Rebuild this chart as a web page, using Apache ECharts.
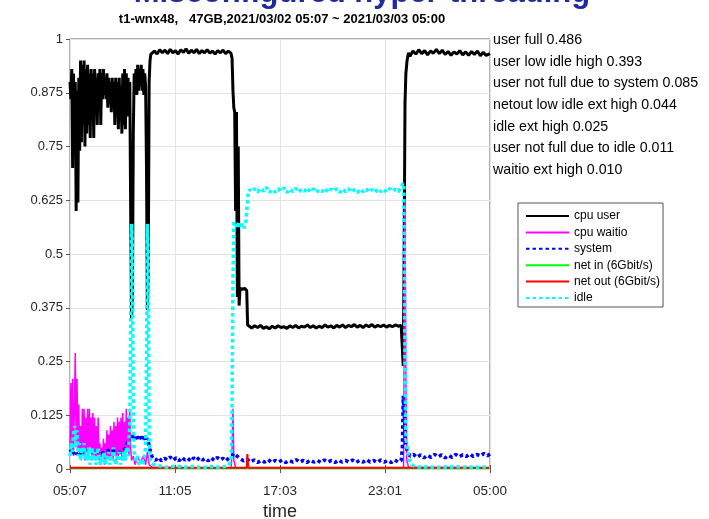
<!DOCTYPE html>
<html>
<head>
<meta charset="utf-8">
<title>cpu</title>
<script src="https://cdn.jsdelivr.net/npm/echarts/dist/echarts.min.js"></script>
<style>
  html, body { margin: 0; padding: 0; background: #fff; }
  #main { width: 709px; height: 519px; }
</style>
</head>
<body>
<div id="main"></div>
<script>
// x values are minutes after 2021/03/02 05:07
var xMax = 1433
var xTickLabels = ['05:07', '11:05', '17:03', '23:01', '05:00']
var yTicks = 0.125

var seriesNames = ['cpu user', 'cpu waitio', 'system', 'net in (6Gbit/s)', 'net out (6Gbit/s)', 'idle']

var notes = [
  'user full 0.486',
  'user low idle high 0.393',
  'user not full due to system 0.085',
  'netout low idle ext high 0.044',
  'idle ext high 0.025',
  'user not full due to idle 0.011',
  'waitio ext high 0.010'
]

var userData = [
  [0,0.90],[3,0.86],[6,0.93],[9,0.70],[12,0.92],[15,0.75],[18,0.90],[21,0.60],[24,0.88],[27,0.62],
  [30,0.91],[33,0.74],[36,0.95],[39,0.76],[42,0.94],[45,0.80],[48,0.95],[51,0.75],[54,0.93],[57,0.78],
  [60,0.94],[63,0.80],[66,0.92],[69,0.77],[72,0.93],[75,0.82],[78,0.92],[81,0.77],[84,0.93],[87,0.85],
  [90,0.91],[93,0.80],[96,0.92],[99,0.84],[102,0.93],[105,0.80],[108,0.92],[111,0.86],[114,0.93],[117,0.87],
  [120,0.91],[123,0.86],[126,0.92],[129,0.84],[132,0.91],[135,0.85],[138,0.90],[141,0.83],[144,0.91],[147,0.84],
  [150,0.90],[153,0.80],[156,0.91],[159,0.82],[162,0.90],[165,0.79],[168,0.91],[171,0.81],[174,0.89],[177,0.78],
  [180,0.92],[183,0.80],[186,0.93],[189,0.79],[192,0.92],[195,0.82],[198,0.91],[201,0.86],[204,0.90],[207,0.60],
  [210,0.35],[213,0.40],[216,0.78],[219,0.92],[222,0.88],[225,0.93],[228,0.87],[231,0.94],[234,0.88],[237,0.93],
  [240,0.89],[243,0.94],[246,0.88],[249,0.93],[252,0.87],[255,0.92],[258,0.89],[261,0.70],[264,0.37],[267,0.45],
  [270,0.90],[273,0.95],[276,0.965],
  [279,0.962],[288,0.972],[297,0.965],[306,0.975],[315,0.968],[324,0.974],[333,0.966],[342,0.976],[351,0.968],
  [360,0.973],[369,0.965],[378,0.975],[387,0.969],[396,0.977],[405,0.967],[414,0.974],[423,0.968],[432,0.976],
  [441,0.966],[450,0.973],[459,0.968],[468,0.975],[477,0.967],[486,0.972],[495,0.965],[504,0.973],[513,0.968],
  [522,0.974],[531,0.966],[540,0.972],[549,0.967],
  [553,0.955],[556,0.88],[559,0.84],[562,0.83],[565,0.60],[568,0.83],[571,0.40],[574,0.75],[577,0.38],
  [580,0.42],[588,0.418],[596,0.42],[603,0.415],[606,0.335],
  [610,0.332],[620,0.328],[630,0.333],[640,0.329],[650,0.334],[660,0.327],[670,0.331],[680,0.326],[690,0.332],
  [700,0.328],[710,0.333],[720,0.329],[730,0.331],[740,0.327],[750,0.333],[760,0.329],[770,0.334],[780,0.328],
  [790,0.332],[800,0.330],[810,0.335],[820,0.329],[830,0.333],[840,0.328],[850,0.332],[860,0.329],[870,0.335],
  [880,0.330],[890,0.333],[900,0.328],[910,0.334],[920,0.330],[930,0.335],[940,0.329],[950,0.334],[960,0.331],
  [970,0.336],[980,0.330],[990,0.334],[1000,0.329],[1010,0.335],[1020,0.331],[1030,0.336],[1040,0.330],
  [1050,0.334],[1060,0.331],[1070,0.335],[1080,0.330],[1090,0.334],[1100,0.331],[1110,0.335],[1120,0.332],
  [1130,0.334],[1134,0.330],[1137,0.24],[1140,0.50],[1143,0.85],[1146,0.92],[1150,0.95],[1155,0.968],
  [1160,0.960],[1170,0.972],[1180,0.965],[1190,0.975],[1200,0.966],[1210,0.973],[1220,0.963],[1230,0.972],
  [1240,0.967],[1250,0.976],[1260,0.966],[1270,0.974],[1280,0.964],[1290,0.971],[1300,0.962],[1310,0.970],
  [1320,0.965],[1330,0.973],[1340,0.963],[1350,0.970],[1360,0.962],[1370,0.971],[1380,0.964],[1390,0.972],
  [1400,0.961],[1410,0.969],[1420,0.962],[1433,0.966]
]

var waitioData = [
  [0,0.04],[3,0.20],[6,0.06],[9,0.21],[12,0.03],[15,0.14],[18,0.27],[21,0.05],[24,0.21],[27,0.04],
  [30,0.15],[33,0.03],[36,0.10],[39,0.02],[42,0.14],[45,0.03],[48,0.14],[51,0.02],[54,0.12],[57,0.04],
  [60,0.14],[63,0.03],[66,0.14],[69,0.05],[72,0.12],[75,0.02],[78,0.13],[81,0.03],[84,0.12],[87,0.02],
  [90,0.10],[93,0.03],[96,0.12],[99,0.02],[102,0.06],[105,0.01],[108,0.05],[111,0.02],[114,0.07],[117,0.01],
  [120,0.06],[123,0.02],[126,0.09],[129,0.03],[132,0.08],[135,0.02],[138,0.10],[141,0.03],[144,0.09],[147,0.02],
  [150,0.11],[153,0.03],[156,0.10],[159,0.02],[162,0.12],[165,0.03],[168,0.11],[171,0.04],[174,0.12],[177,0.02],
  [180,0.13],[183,0.03],[186,0.11],[189,0.02],[192,0.14],[195,0.04],[198,0.12],[201,0.03],[204,0.14],[207,0.05],
  [210,0.02],[216,0.03],[222,0.01],[230,0.03],[240,0.015],[250,0.03],[258,0.01],[264,0.04],[270,0.01],
  [280,0.004],[400,0.003],[550,0.003],[553,0.05],[556,0.14],[559,0.02],[565,0.003],[800,0.003],
  [1138,0.003],[1140,0.30],[1143,0.62],[1146,0.20],[1149,0.02],[1155,0.004],[1433,0.003]
]

var systemData = [
  [0,0.040],[6,0.046],[12,0.036],[18,0.042],[24,0.034],[30,0.040],[36,0.035],[42,0.042],[48,0.038],[54,0.044],
  [60,0.036],[66,0.041],[72,0.035],[78,0.040],[84,0.037],[90,0.045],[96,0.040],[102,0.037],[108,0.043],[114,0.036],
  [120,0.041],[126,0.038],[132,0.043],[138,0.040],[144,0.046],[150,0.041],[156,0.045],[162,0.040],[168,0.044],
  [174,0.038],[180,0.043],[186,0.040],[192,0.050],[198,0.066],[204,0.074],[210,0.068],[216,0.080],[222,0.070],
  [228,0.078],[234,0.066],[240,0.075],[246,0.068],[252,0.079],[258,0.064],[264,0.072],[270,0.055],[276,0.035],
  [282,0.026],[292,0.020],[302,0.027],[312,0.019],[322,0.025],[332,0.021],[342,0.028],[352,0.020],[362,0.026],
  [372,0.019],[382,0.027],[392,0.021],[402,0.025],[412,0.018],[422,0.026],[432,0.020],[442,0.027],[452,0.021],
  [462,0.025],[472,0.019],[482,0.026],[492,0.020],[502,0.027],[512,0.021],[522,0.025],[532,0.019],[542,0.026],
  [552,0.030],[560,0.036],[570,0.030],[580,0.024],[592,0.019],[604,0.023],[616,0.016],[628,0.021],[640,0.015],
  [652,0.020],[664,0.016],[676,0.022],[688,0.015],[700,0.020],[712,0.016],[724,0.021],[736,0.015],[748,0.020],
  [760,0.016],[772,0.022],[784,0.016],[796,0.020],[808,0.015],[820,0.021],[832,0.016],[844,0.020],[856,0.015],
  [868,0.021],[880,0.016],[892,0.020],[904,0.015],[916,0.021],[928,0.016],[940,0.020],[952,0.016],[964,0.021],
  [976,0.015],[988,0.020],[1000,0.016],[1012,0.022],[1024,0.016],[1036,0.020],[1048,0.015],[1060,0.021],
  [1072,0.016],[1084,0.020],[1096,0.015],[1108,0.021],[1120,0.016],[1130,0.020],[1134,0.05],[1137,0.17],
  [1141,0.12],[1145,0.06],[1150,0.042],[1160,0.030],[1172,0.034],[1184,0.027],[1196,0.033],[1208,0.026],
  [1220,0.032],[1232,0.027],[1244,0.034],[1256,0.028],[1268,0.033],[1280,0.026],[1292,0.032],[1304,0.027],
  [1316,0.034],[1328,0.028],[1340,0.033],[1352,0.029],[1364,0.035],[1376,0.029],[1388,0.034],[1400,0.030],
  [1412,0.036],[1424,0.031],[1433,0.035]
]

var netInData = [[0,0.002],[400,0.002],[800,0.002],[1200,0.002],[1433,0.002]]

var netOutData = [[0,0.003],[300,0.003],[603,0.003],[605,0.035],[608,0.003],[900,0.003],[1433,0.003]]

var idleData = [
  [0,0.03],[4,0.06],[8,0.04],[12,0.08],[16,0.10],[20,0.05],[24,0.09],[28,0.03],[32,0.06],[36,0.02],
  [40,0.05],[44,0.03],[48,0.06],[52,0.02],[56,0.04],[60,0.02],[64,0.05],[68,0.01],[72,0.03],[76,0.05],
  [80,0.02],[84,0.04],[88,0.01],[92,0.03],[96,0.05],[100,0.02],[104,0.01],[108,0.03],[112,0.02],[116,0.04],
  [120,0.01],[124,0.03],[128,0.02],[132,0.04],[136,0.01],[140,0.03],[144,0.02],[148,0.05],[152,0.02],[156,0.01],
  [160,0.03],[164,0.02],[168,0.04],[172,0.01],[176,0.03],[180,0.02],[184,0.04],[188,0.02],[192,0.05],[196,0.03],
  [200,0.06],[204,0.10],[207,0.35],[210,0.57],[213,0.52],[216,0.12],[219,0.04],[224,0.02],[230,0.03],[236,0.01],
  [242,0.02],[248,0.01],[254,0.03],[258,0.05],[261,0.25],[264,0.57],[267,0.50],[270,0.08],[274,0.02],[280,0.012],
  [300,0.008],[330,0.004],[360,0.007],[390,0.004],[420,0.006],[450,0.003],[480,0.006],[510,0.004],[540,0.007],
  [550,0.02],[553,0.15],[556,0.45],[559,0.575],[564,0.57],[570,0.56],[576,0.575],[582,0.56],[588,0.57],
  [594,0.56],[600,0.575],[604,0.61],[608,0.64],[612,0.65],
  [620,0.645],[630,0.652],[640,0.644],[650,0.653],[660,0.646],[670,0.655],[680,0.643],[690,0.650],[700,0.644],
  [710,0.652],[720,0.646],[730,0.654],[740,0.643],[750,0.651],[760,0.645],[770,0.653],[780,0.644],[790,0.651],
  [800,0.646],[810,0.654],[820,0.645],[830,0.652],[840,0.643],[850,0.650],[860,0.645],[870,0.653],[880,0.644],
  [890,0.651],[900,0.646],[910,0.652],[920,0.643],[930,0.651],[940,0.645],[950,0.652],[960,0.644],[970,0.650],
  [980,0.643],[990,0.651],[1000,0.645],[1010,0.652],[1020,0.644],[1030,0.650],[1040,0.643],[1050,0.652],
  [1060,0.645],[1070,0.651],[1080,0.644],[1090,0.652],[1100,0.646],[1110,0.651],[1120,0.645],[1130,0.655],
  [1136,0.665],[1139,0.66],[1142,0.35],[1145,0.10],[1148,0.06],[1152,0.04],[1158,0.02],[1165,0.01],
  [1180,0.005],[1250,0.004],[1320,0.005],[1390,0.004],[1433,0.005]
]

var FONT = '"Liberation Sans", Helvetica, Arial, sans-serif'
var xStep = xMax / (xTickLabels.length - 1)

var chart = echarts.init(document.getElementById('main'))

function lineSeries(name, data, color, width, type) {
  return {
    name: name,
    type: 'line',
    data: data,
    color: color,
    symbol: 'none',
    animation: false,
    lineStyle: { color: color, width: width, type: type }
  }
}

// note lines to the right of the plot
var noteTexts = notes.map(function (t, i) {
  return {
    type: 'text', x: 493, y: 40 + i * 21.7,
    style: { text: t, font: '14.2px ' + FONT, fill: '#000', verticalAlign: 'middle' }
  }
})

var option = {
  animation: false,
  backgroundColor: '#fff',
  grid: {
    left: 70, right: 219, top: 39, bottom: 50,
    containLabel: false, outerBoundsMode: 'none',
    show: true, borderColor: '#666', borderWidth: 1
  },
  graphic: [
    {
      type: 'text', x: 362, y: -7,
      style: { text: 'Misconfigured hyper-threading', font: 'bold 31px ' + FONT, fill: '#1f2aa0', align: 'center', verticalAlign: 'middle' }
    },
    {
      type: 'text', x: 282, y: 19,
      style: { text: 't1-wnx48,   47GB,2021/03/02 05:07 ~ 2021/03/03 05:00', font: 'bold 13px ' + FONT, fill: '#000', align: 'center', verticalAlign: 'middle' }
    }
  ].concat(noteTexts),
  legend: {
    orient: 'vertical', left: 518, top: 203,
    padding: [7, 3, 3, 7],
    itemWidth: 43, itemHeight: 12, itemGap: 4.4,
    borderColor: '#555', borderWidth: 1, backgroundColor: '#fff',
    itemStyle: { opacity: 0 },
    textStyle: { fontSize: 12, color: '#000', fontFamily: FONT },
    data: seriesNames
  },
  xAxis: [
    {
      type: 'value', min: 0, max: xMax, interval: xStep,
      name: 'time', nameLocation: 'middle', nameGap: 33,
      nameTextStyle: { fontSize: 18, color: '#262626', fontFamily: FONT },
      axisLine: { show: false },
      axisTick: { inside: true, length: 4, lineStyle: { color: '#555' } },
      axisLabel: {
        fontSize: 13.5, color: '#262626', fontFamily: FONT, margin: 15,
        formatter: function (v) { return xTickLabels[Math.round(v / xStep)] }
      },
      splitLine: { lineStyle: { color: '#e3e3e3' } }
    },
    {
      type: 'value', position: 'top', min: 0, max: xMax, interval: xStep,
      axisLine: { show: false }, axisLabel: { show: false }, splitLine: { show: false },
      axisTick: { inside: true, length: 4, lineStyle: { color: '#555' } }
    }
  ],
  yAxis: [
    {
      type: 'value', min: 0, max: 1, interval: yTicks,
      axisLine: { show: false },
      axisTick: { show: false },
      axisLabel: { fontSize: 13, color: '#262626', fontFamily: FONT, margin: 7 },
      splitLine: { lineStyle: { color: '#e3e3e3' } }
    },
    {
      type: 'value', position: 'right', min: 0, max: 1, interval: yTicks,
      axisLine: { show: false }, axisLabel: { show: false }, splitLine: { show: false },
      axisTick: { inside: true, length: 4, lineStyle: { color: '#555' } }
    }
  ],
  series: [
    lineSeries(seriesNames[0], userData, '#000000', 3, 'solid'),
    lineSeries(seriesNames[1], waitioData, '#ff00ff', 1.5, 'solid'),
    lineSeries(seriesNames[2], systemData, '#0000ff', 3.5, [3.5, 3]),
    lineSeries(seriesNames[3], netInData, '#00ff00', 2, 'solid'),
    lineSeries(seriesNames[4], netOutData, '#ff0000', 2, 'solid'),
    lineSeries(seriesNames[5], idleData, '#00ffff', 3.5, [3.5, 3])
  ]
}

chart.setOption(option)
</script>
</body>
</html>
